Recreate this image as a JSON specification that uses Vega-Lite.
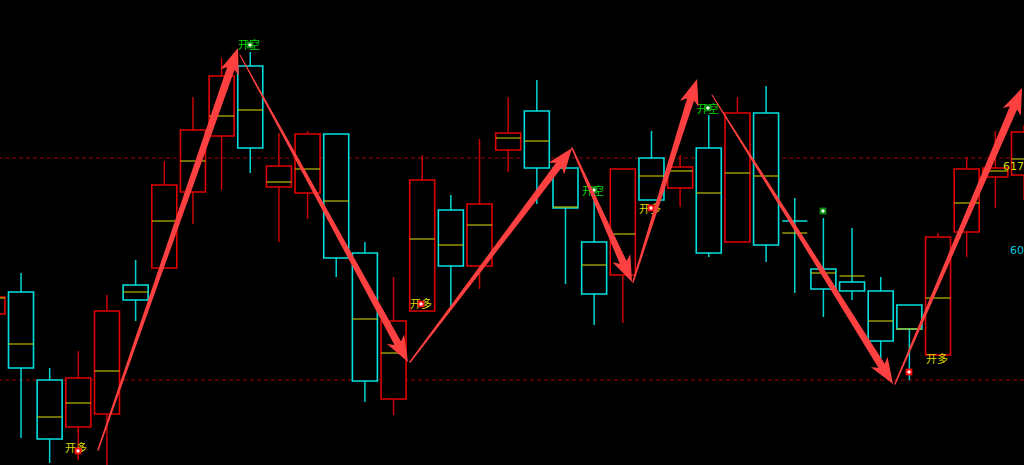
{
  "$schema": "https://vega.github.io/schema/vega-lite/v6.json",
  "autosize": {"type": "none"},
  "width": 1024,
  "height": 465,
  "padding": 0,
  "background": "#000000",
  "config": {"view": {"stroke": null}, "axis": {"disable": true}, "scale": {"continuousPadding": 0}},
  "resolve": {"scale": {"color": "independent"}},
  "datasets": {
    "candles": [
      {"i": 0, "dir": "up", "open": 6151, "high": 6175, "low": 6145, "close": 6168, "mid": 6167},
      {"i": 1, "dir": "down", "open": 6173, "high": 6192, "low": 6027, "close": 6097, "mid": 6121},
      {"i": 2, "dir": "down", "open": 6085, "high": 6097, "low": 6002, "close": 6026, "mid": 6048},
      {"i": 3, "dir": "up", "open": 6038, "high": 6114, "low": 6005, "close": 6087, "mid": 6062},
      {"i": 4, "dir": "up", "open": 6051, "high": 6170, "low": 5995, "close": 6154, "mid": 6094},
      {"i": 5, "dir": "down", "open": 6180, "high": 6205, "low": 6144, "close": 6165, "mid": 6173},
      {"i": 6, "dir": "up", "open": 6197, "high": 6304, "low": 6197, "close": 6280, "mid": 6244},
      {"i": 7, "dir": "up", "open": 6273, "high": 6368, "low": 6241, "close": 6335, "mid": 6304},
      {"i": 8, "dir": "up", "open": 6329, "high": 6407, "low": 6275, "close": 6389, "mid": 6349},
      {"i": 9, "dir": "down", "open": 6399, "high": 6413, "low": 6292, "close": 6317, "mid": 6355},
      {"i": 10, "dir": "up", "open": 6278, "high": 6332, "low": 6223, "close": 6299, "mid": 6283},
      {"i": 11, "dir": "up", "open": 6272, "high": 6334, "low": 6246, "close": 6331, "mid": 6296},
      {"i": 12, "dir": "down", "open": 6331, "high": 6331, "low": 6188, "close": 6207, "mid": 6264},
      {"i": 13, "dir": "down", "open": 6212, "high": 6223, "low": 6063, "close": 6084, "mid": 6146},
      {"i": 14, "dir": "up", "open": 6066, "high": 6188, "low": 6050, "close": 6144, "mid": 6112},
      {"i": 15, "dir": "up", "open": 6154, "high": 6310, "low": 6154, "close": 6285, "mid": 6226},
      {"i": 16, "dir": "down", "open": 6255, "high": 6270, "low": 6158, "close": 6199, "mid": 6220},
      {"i": 17, "dir": "up", "open": 6199, "high": 6326, "low": 6176, "close": 6261, "mid": 6240},
      {"i": 18, "dir": "up", "open": 6315, "high": 6368, "low": 6293, "close": 6332, "mid": 6327},
      {"i": 19, "dir": "down", "open": 6354, "high": 6385, "low": 6261, "close": 6297, "mid": 6324},
      {"i": 20, "dir": "down", "open": 6297, "high": 6305, "low": 6181, "close": 6257, "mid": 6258},
      {"i": 21, "dir": "down", "open": 6223, "high": 6275, "low": 6140, "close": 6171, "mid": 6200},
      {"i": 22, "dir": "up", "open": 6190, "high": 6296, "low": 6142, "close": 6296, "mid": 6231},
      {"i": 23, "dir": "down", "open": 6307, "high": 6334, "low": 6265, "close": 6265, "mid": 6289},
      {"i": 24, "dir": "up", "open": 6277, "high": 6310, "low": 6258, "close": 6298, "mid": 6294},
      {"i": 25, "dir": "down", "open": 6317, "high": 6350, "low": 6208, "close": 6212, "mid": 6272},
      {"i": 26, "dir": "up", "open": 6223, "high": 6368, "low": 6223, "close": 6352, "mid": 6292},
      {"i": 27, "dir": "down", "open": 6352, "high": 6379, "low": 6203, "close": 6220, "mid": 6289},
      {"i": 28, "dir": "down", "open": 6244, "high": 6267, "low": 6172, "close": 6244, "mid": 6232},
      {"i": 29, "dir": "down", "open": 6196, "high": 6247, "low": 6148, "close": 6176, "mid": 6192},
      {"i": 30, "dir": "down", "open": 6183, "high": 6237, "low": 6165, "close": 6174, "mid": 6189},
      {"i": 31, "dir": "down", "open": 6174, "high": 6188, "low": 6105, "close": 6124, "mid": 6144},
      {"i": 32, "dir": "down", "open": 6160, "high": 6160, "low": 6085, "close": 6136, "mid": 6136},
      {"i": 33, "dir": "up", "open": 6110, "high": 6232, "low": 6110, "close": 6228, "mid": 6167},
      {"i": 34, "dir": "up", "open": 6233, "high": 6308, "low": 6208, "close": 6296, "mid": 6262},
      {"i": 35, "dir": "up", "open": 6288, "high": 6334, "low": 6257, "close": 6297, "mid": 6294},
      {"i": 36, "dir": "up", "open": 6290, "high": 6340, "low": 6265, "close": 6333, "mid": 6306}
    ],
    "levels": [{"p": 6307}, {"p": 6085}],
    "arrows": [
      {"a": 1, "o": 0, "x": 3.687, "y": 6015, "w": 1.5},
      {"a": 1, "o": 1, "x": 8.366, "y": 6400, "w": 8},
      {"a": 2, "o": 0, "x": 8.642, "y": 6410, "w": 1},
      {"a": 2, "o": 1, "x": 14.204, "y": 6118.8, "w": 7.5},
      {"a": 3, "o": 0, "x": 14.575, "y": 6103, "w": 1.5},
      {"a": 3, "o": 1, "x": 19.847, "y": 6302.7, "w": 7.5},
      {"a": 4, "o": 0, "x": 20.228, "y": 6317, "w": 1.5},
      {"a": 4, "o": 1, "x": 22.063, "y": 6199.4, "w": 7.5},
      {"a": 5, "o": 0, "x": 22.356, "y": 6183, "w": 1.5},
      {"a": 5, "o": 1, "x": 24.401, "y": 6368.8, "w": 7.5},
      {"a": 6, "o": 0, "x": 25.113, "y": 6370, "w": 1},
      {"a": 6, "o": 1, "x": 31.094, "y": 6096.3, "w": 7.5},
      {"a": 7, "o": 0, "x": 31.499, "y": 6081, "w": 1.5},
      {"a": 7, "o": 1, "x": 35.683, "y": 6360.5, "w": 8}
    ],
    "heads": [
      {"x": 8.572, "y": 6417, "ang": 19.2},
      {"x": 14.505, "y": 6103, "ang": 151.3},
      {"x": 20.228, "y": 6317, "ang": 37.1},
      {"x": 22.321, "y": 6183, "ang": 155.9},
      {"x": 24.59, "y": 6386, "ang": 17.5},
      {"x": 31.429, "y": 6081, "ang": 147.9},
      {"x": 35.931, "y": 6377, "ang": 23.2}
    ],
    "labels": [
      {"x": 2.919, "y": 6016, "t": "开多", "k": "long"},
      {"x": 8.956, "y": 6419, "t": "开空", "k": "short"},
      {"x": 14.958, "y": 6160, "t": "开多", "k": "long"},
      {"x": 20.96, "y": 6273, "t": "开空", "k": "short"},
      {"x": 22.949, "y": 6255, "t": "开多", "k": "long"},
      {"x": 24.973, "y": 6355, "t": "开空", "k": "short"},
      {"x": 32.965, "y": 6105, "t": "开多", "k": "long"}
    ],
    "markers": [
      {"x": 2.989, "y": 6014, "k": "long"},
      {"x": 14.958, "y": 6161, "k": "long"},
      {"x": 22.984, "y": 6257, "k": "long"},
      {"x": 31.987, "y": 6093, "k": "long"},
      {"x": 8.991, "y": 6420, "k": "short"},
      {"x": 20.995, "y": 6275, "k": "short"},
      {"x": 24.973, "y": 6357, "k": "short"},
      {"x": 28.986, "y": 6254, "k": "short"}
    ],
    "prices": [
      {"x": 35.268, "y": 6298, "t": "6174", "k": "a"},
      {"x": 35.512, "y": 6214, "t": "6022", "k": "b"}
    ]
  },
  "layer": [
    {
      "data": {"name": "levels"},
      "mark": {"type": "rule", "color": "#a00000", "strokeDash": [4, 3], "strokeWidth": 1},
      "encoding": {
        "y": {"field": "p", "type": "quantitative", "scale": {"domain": [6000, 6465], "nice": false, "zero": false, "padding": 0}}
      }
    },
    {
      "data": {"name": "candles"},
      "mark": {"type": "rule", "strokeWidth": 1.5},
      "encoding": {
        "x": {"field": "i", "type": "quantitative", "scale": {"domain": [0.267, 36.0], "nice": false, "zero": false, "padding": 0}},
        "y": {"field": "high", "type": "quantitative"},
        "y2": {"field": "low"},
        "color": {"field": "dir", "type": "nominal", "scale": {"domain": ["up", "down"], "range": ["#c80000", "#00d4d4"]}, "legend": null}
      }
    },
    {
      "data": {"name": "candles"},
      "mark": {"type": "bar", "size": 25, "fill": "#000000", "strokeWidth": 1.6},
      "encoding": {
        "x": {"field": "i", "type": "quantitative"},
        "y": {"field": "open", "type": "quantitative"},
        "y2": {"field": "close"},
        "stroke": {"field": "dir", "type": "nominal", "scale": {"domain": ["up", "down"], "range": ["#e00000", "#00e0e0"]}, "legend": null}
      }
    },
    {
      "data": {"name": "candles"},
      "mark": {"type": "tick", "orient": "horizontal", "size": 25, "thickness": 1.6, "color": "#c8c800"},
      "encoding": {
        "x": {"field": "i", "type": "quantitative"},
        "y": {"field": "mid", "type": "quantitative"}
      }
    },
    {
      "data": {"name": "labels"},
      "mark": {"type": "text", "font": "Noto Sans CJK SC", "fontSize": 11, "align": "center", "baseline": "middle"},
      "encoding": {
        "x": {"field": "x", "type": "quantitative"},
        "y": {"field": "y", "type": "quantitative"},
        "text": {"field": "t"},
        "color": {"field": "k", "type": "nominal", "scale": {"domain": ["long", "short"], "range": ["#d8d800", "#00d800"]}, "legend": null}
      }
    },
    {
      "data": {"name": "markers"},
      "mark": {"type": "point", "shape": "square", "filled": true, "size": 45, "opacity": 1},
      "encoding": {
        "x": {"field": "x", "type": "quantitative"},
        "y": {"field": "y", "type": "quantitative"},
        "color": {"field": "k", "type": "nominal", "scale": {"domain": ["long", "short"], "range": ["#ff1010", "#109010"]}, "legend": null}
      }
    },
    {
      "data": {"name": "markers"},
      "mark": {"type": "point", "shape": "cross", "filled": true, "size": 12, "color": "#ffffff", "opacity": 1},
      "encoding": {
        "x": {"field": "x", "type": "quantitative"},
        "y": {"field": "y", "type": "quantitative"}
      }
    },
    {
      "data": {"name": "arrows"},
      "mark": {"type": "trail", "color": "#ff4040"},
      "encoding": {
        "x": {"field": "x", "type": "quantitative"},
        "y": {"field": "y", "type": "quantitative"},
        "size": {"field": "w", "type": "quantitative", "scale": null},
        "detail": {"field": "a", "type": "nominal"},
        "order": {"field": "o", "type": "quantitative"}
      }
    },
    {
      "data": {"name": "heads"},
      "mark": {"type": "point", "shape": "M0,0 L0.7,1.85 L0,1.35 L-0.7,1.85 Z", "filled": true, "size": 784, "color": "#ff4040", "opacity": 1},
      "encoding": {
        "x": {"field": "x", "type": "quantitative"},
        "y": {"field": "y", "type": "quantitative"},
        "angle": {"field": "ang", "type": "quantitative", "scale": null}
      }
    },
    {
      "data": {"name": "prices"},
      "mark": {"type": "text", "font": "DejaVu Sans", "fontSize": 11, "align": "left", "baseline": "middle"},
      "encoding": {
        "x": {"field": "x", "type": "quantitative"},
        "y": {"field": "y", "type": "quantitative"},
        "text": {"field": "t"},
        "color": {"field": "k", "type": "nominal", "scale": {"domain": ["a", "b"], "range": ["#d8d800", "#00c8d8"]}, "legend": null}
      }
    }
  ]
}
